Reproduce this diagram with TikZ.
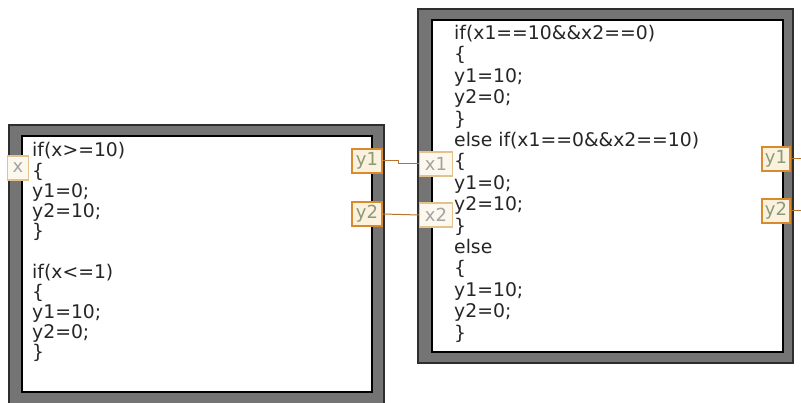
\documentclass[tikz,border=0pt]{standalone}
\usepackage{fontspec}
\setmainfont{DejaVu Sans}
\definecolor{framegray}{HTML}{747474}
\definecolor{framedark}{HTML}{2E2E2E}
\definecolor{codecol}{HTML}{262626}
\definecolor{outborder}{HTML}{D98A2E}
\definecolor{outfill}{HTML}{FBF1DF}
\definecolor{outtext}{HTML}{8C9A74}
\definecolor{inborder}{HTML}{E2C38E}
\definecolor{infill}{HTML}{FDF8EE}
\definecolor{intext}{HTML}{A2A2A2}
\definecolor{wirecol}{HTML}{B8742E}
\tikzset{
  frameout/.style={fill=framegray, draw=framedark, line width=1.2pt},
  framein/.style={fill=white, draw=black, line width=1.6pt},
  codeline/.style={anchor=base west, inner sep=0pt, text=codecol,
    font=\fontsize{18.8}{21}\selectfont},
  outterm/.style={draw=outborder, fill=outfill, line width=2pt, text=outtext,
    inner sep=0pt, minimum width=30pt, minimum height=24pt,
    font=\fontsize{18}{18}\selectfont},
  interm/.style={draw=inborder, fill=infill, line width=1.5pt, text=intext,
    inner sep=0pt, minimum width=33pt, minimum height=24pt,
    font=\fontsize{18}{18}\selectfont},
  wire/.style={draw=wirecol, line width=1pt}
}
\begin{document}
\begin{tikzpicture}[x=1pt, y=-1pt]
\useasboundingbox (0,0) rectangle (801,403);
% left structure
\draw[frameout] (9,125) rectangle (384,404);
\draw[framein] (22,136) rectangle (372,392);
% right structure
\draw[frameout] (418,9) rectangle (793,363);
\draw[framein] (432,20) rectangle (783,352);
% left code
\foreach \t [count=\i from 0] in {if(x>=10), \{, y1=0;, y2=10;, \}, {}, if(x<=1), \{, y1=10;, y2=0;, \}}{
  \node[codeline] (lc\i) at (32, 157+\i*20.2) {\t};
}
% right code
\foreach \t [count=\i from 0] in {if(x1==10\&\&x2==0), \{, y1=10;, y2=0;, \}, else if(x1==0\&\&x2==10), \{, y1=0;, y2=10;, \}, else, \{, y1=10;, y2=0;, \}}{
  \node[codeline] (rc\i) at (454, 39.5+\i*21.4) {\t};
}
% terminals
\node[interm, minimum width=21pt] (lx) at (18,168) {x};
\node[outterm] (ly1) at (367,161) {y1};
\node[outterm] (ly2) at (367,214) {y2};
\node[interm] (rx1) at (436,164) {x1};
\node[interm] (rx2) at (436,215) {x2};
\node[outterm, minimum width=28pt] (ry1) at (776,159) {y1};
\node[outterm, minimum width=28pt] (ry2) at (776,211) {y2};
% wires
\coordinate (k1) at (398,0);
\coordinate (edge) at (801,0);
\draw[wire] (ly1.east) -- (ly1.east -| k1) -- (k1 |- rx1.west) -- (rx1.west);
\draw[wire] (ly2.east) -- (rx2.west);
\draw[wire] (ry1.east) -- (ry1.east -| edge);
\draw[wire] (ry2.east) -- (ry2.east -| edge);
\end{tikzpicture}
\end{document}
